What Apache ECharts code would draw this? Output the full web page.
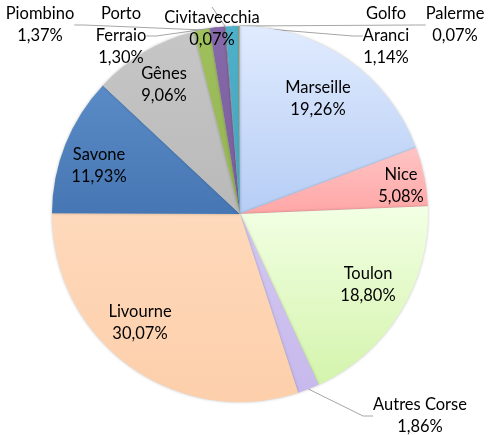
<!DOCTYPE html>
<html>
<head>
<meta charset="utf-8">
<title>ECharts</title>
<script src="https://cdn.jsdelivr.net/npm/echarts@6/dist/echarts.min.js"></script>
<style>
html, body { margin: 0; padding: 0; background: #fff; }
</style>
</head>
<body>
<div id="main" style="width: 491px; height: 435px;"></div>
<script type="text/javascript">
// ports, clockwise from 12 o'clock
var ports = ['Marseille', 'Nice', 'Toulon', 'Autres Corse', 'Livourne', 'Savone', 'Gênes',
	'Piombino', 'Porto\nFerraio', 'Civitavecchia', 'Golfo\nAranci', 'Palerme'];
// share of traffic, %
var shares = [19.26, 5.08, 18.80, 1.86, 30.07, 11.93, 9.06, 1.37, 1.30, 0.07, 1.14, 0.07];

// colours (top, bottom of the slice gradient)
var colors = [
	['#e0ebfe', '#b6cdf5'], ['#ffc4c4', '#ffa6a6'], ['#f2ffe4', '#d4f4ac'], ['#d3c8f2', '#c7b9ec'],
	['#fed9bb', '#fdcfab'], ['#5a8bc6', '#4677b4'], ['#c6c6c6', '#b9b9b9'], ['#a0c05e', '#94b452'],
	['#8669a8', '#7a5e9c'], ['#7f7f7f', '#7f7f7f'], ['#4fb0ca', '#45a4be'], ['#f79646', '#f79646']
];
// label centres (px), Excel-style layout
var labelAt = [
	[318, 99], [401, 186], [368, 285], [420, 416], [140, 323], [99, 166], [164, 85],
	[40, 25], [121, 36], [212, 29], [386, 36], [455, 25]
];
var outside = [false, false, false, true, false, false, false, true, true, true, true, true];

var myChart = echarts.init(document.getElementById('main'));

var data = [];
for (var i = 0; i < ports.length; i++) {
	data.push({
		name: ports[i],
		value: shares[i],
		itemStyle: {
			color: new echarts.graphic.LinearGradient(0, 0, 0, 1, [
				{ offset: 0, color: colors[i][0] },
				{ offset: 1, color: colors[i][1] }
			])
		},
		label: { position: outside[i] ? 'outside' : 'inside' },
		labelLine: { show: outside[i] }
	});
}

var option = {
	animation: false,
	series: [{
		type: 'pie',
		center: [240, 214],
		radius: 188,
		startAngle: 90,
		clockwise: true,
		avoidLabelOverlap: false,
		itemStyle: {
			borderWidth: 0,
			shadowColor: 'rgba(0,0,0,0.25)',
			shadowBlur: 3
		},
		label: {
			show: true,
			color: '#000',
			fontFamily: 'Lato',
			fontSize: 16.5,
			lineHeight: 22,
			align: 'center',
			formatter: function (p) {
				return p.name + '\n' + p.value.toFixed(2).replace('.', ',') + '%';
			}
		},
		labelLine: {
			length: 10,
			length2: 10,
			lineStyle: { color: '#a6a6a6', width: 1 }
		},
		labelLayout: function (p) {
			var pos = labelAt[p.dataIndex];
			return {
				x: pos[0],
				y: pos[1],
				align: 'center',
				verticalAlign: 'middle'
			};
		},
		data: data
	}]
};
myChart.setOption(option);
</script>
</body>
</html>
